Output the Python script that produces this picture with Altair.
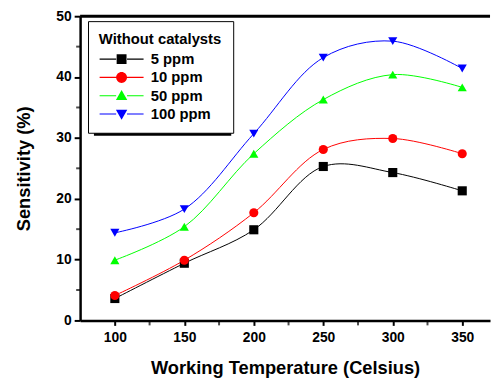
import altair as alt
import pandas as pd

temps = [100, 150, 200, 250, 300, 350]
series_names = ["5 ppm", "10 ppm", "50 ppm", "100 ppm"]
s5 = [3.6, 9.4, 14.9, 25.3, 24.3, 21.3]
s10 = [4.1, 9.9, 17.7, 28.1, 29.9, 27.4]
s50 = [9.9, 15.4, 27.4, 36.3, 40.4, 38.3]
s100 = [14.4, 18.3, 30.7, 43.2, 45.9, 41.4]
colors = ["#000000", "#ff0000", "#00ff00", "#0000ff"]
shapes = ["square", "circle", "triangle-up", "triangle-down"]
x_ticks = [100, 150, 200, 250, 300, 350]
x_minor = [125, 175, 225, 275, 325]
y_ticks = [0, 10, 20, 30, 40, 50]
y_minor = [5, 15, 25, 35, 45]

# legend glyphs: line stub + marker (custom SVG paths, unit = sqrt(size)/2)
seg = "M-4.45,-0.12H-1.1V0.12H-4.45Z M1.1,-0.12H4.45V0.12H1.1Z "
legend_paths = [
    seg + "M-1,-1H1V1H-1Z",
    seg + "M-1.1,0A1.1,1.1 0 1,0 1.1,0A1.1,1.1 0 1,0 -1.1,0Z",
    seg + "M0,-1.15L1.15,0.85L-1.15,0.85Z",
    seg + "M0,1.15L1.15,-0.85L-1.15,-0.85Z",
]

rows = []
for name, vals in zip(series_names, [s5, s10, s50, s100]):
    for t, v in zip(temps, vals):
        rows.append({"temp": t, "sens": v, "series": name})
df = pd.DataFrame(rows)

W, H = 415, 308
xs = alt.Scale(domain=[75, 370], nice=False, zero=False)
ys = alt.Scale(domain=[0, 50], nice=False)

x_enc = alt.X("temp:Q", scale=xs,
              axis=alt.Axis(values=x_ticks, title="Working Temperature (Celsius)",
                            tickSize=5, labelPadding=5, titlePadding=15))
y_enc = alt.Y("sens:Q", scale=ys,
              axis=alt.Axis(values=y_ticks, title="Sensitivity (%)",
                            tickSize=6, labelPadding=3, titlePadding=23))

cscale = alt.Scale(domain=series_names, range=colors)

shadow = alt.Chart(pd.DataFrame({"a": [0]})).mark_rect(color="black").encode(
    x=alt.value(14), x2=alt.value(153), y=alt.value(11), y2=alt.value(121)
)

lines = alt.Chart(df).mark_line(interpolate="catmull-rom", strokeWidth=1).encode(
    x=x_enc, y=y_enc,
    color=alt.Color("series:N", scale=cscale, legend=None),
    detail="series:N",
)

points = alt.Chart(df).mark_point(filled=True, size=85, opacity=1).encode(
    x=x_enc, y=y_enc,
    color=alt.Color("series:N", scale=cscale, legend=None),
    shape=alt.Shape("series:N", scale=alt.Scale(domain=series_names, range=shapes), legend=None),
)

leg = alt.Legend(
    title="Without catalysts", orient="none", legendX=8, legendY=5,
    fillColor="white", strokeColor="black", padding=11,
    symbolOffset=15.5, labelOffset=22, rowPadding=2.5, titlePadding=5,
    titleFont="Liberation Sans", titleFontSize=15, titleFontWeight="bold", titleColor="black",
    labelFont="Liberation Sans", labelFontSize=15, labelFontWeight="bold", labelColor="black",
    symbolStrokeWidth=0,
)

dummy = alt.Chart(df).transform_filter("false").mark_point(filled=True, size=81, opacity=1).encode(
    x=x_enc, y=y_enc,
    color=alt.Color("series:N", scale=cscale, legend=leg),
    shape=alt.Shape("series:N", scale=alt.Scale(domain=series_names, range=legend_paths), legend=leg),
)

xminor = alt.Chart(pd.DataFrame({"temp": x_minor})).mark_tick(
    orient="vertical", size=5, thickness=2, color="black"
).encode(x=alt.X("temp:Q", scale=xs), y=alt.value(H + 2.5))

yminor = alt.Chart(pd.DataFrame({"sens": y_minor})).mark_tick(
    orient="horizontal", size=4, thickness=2, color="black"
).encode(y=alt.Y("sens:Q", scale=ys), x=alt.value(-2))

top = alt.Chart(pd.DataFrame({"sens": [50]})).mark_rule(color="black", strokeWidth=3).encode(
    y=alt.Y("sens:Q", scale=ys)
)

chart = alt.layer(shadow, lines, points, dummy, xminor, yminor, top).resolve_scale(
    color="independent", shape="independent"
).properties(
    width=W, height=H,
    autosize=alt.AutoSizeParams(type="none"),
    padding={"left": 73, "top": 6, "right": 2, "bottom": 58},
).configure_view(stroke=None).configure_axis(
    grid=False, domainColor="black", domainWidth=2.5, tickColor="black", tickWidth=2,
    labelFont="Liberation Sans", labelFontSize=14, labelFontWeight="bold", labelColor="black",
    titleFont="Liberation Sans", titleFontSize=18.5, titleFontWeight="bold", titleColor="black",
)

chart.save("out.html", embed_options={"renderer": "svg", "actions": False})
